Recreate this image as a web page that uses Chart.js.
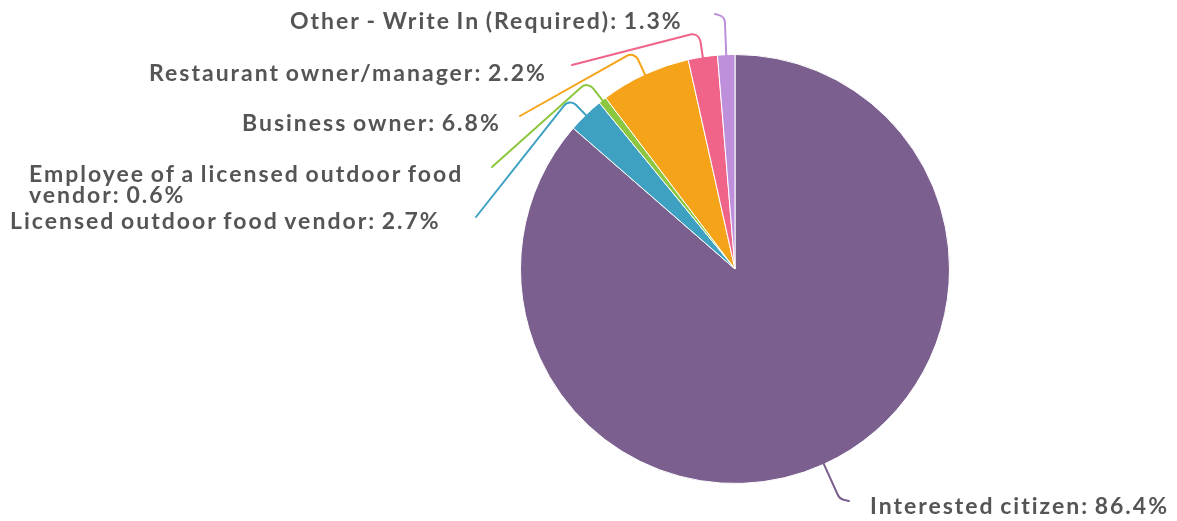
<!DOCTYPE html>
<html>
<head>
<meta charset="utf-8">
<script src="https://cdn.jsdelivr.net/npm/chart.js@4.4.0/dist/chart.umd.min.js"></script>
<style>
  html, body { margin: 0; padding: 0; background: #fff; }
  #wrap { width: 1177px; height: 521px; position: relative; }
</style>
</head>
<body>
<div id="wrap"><canvas id="roleChart"></canvas></div>
<script>
const categories = [
  "Interested citizen",
  "Licensed outdoor food vendor",
  "Employee of a licensed outdoor food vendor",
  "Business owner",
  "Restaurant owner/manager",
  "Other - Write In (Required)"
];
const shares = [86.4, 2.7, 0.6, 6.8, 2.2, 1.3];
const sliceColors = ["#7b5f8e", "#3fa1c2", "#8dc63f", "#f5a41a", "#ef6488", "#be90dc"];

// where each label sits and how far its leader line runs out of the pie
const labelSpots = [
  { x: 870, y: 514, ext: 38, end: [849, 501] },
  { x: 10, y: 229, ext: 23, end: [476, 217] },
  { x: 29, y: 182, ext: 24, end: [492, 167], wrap: 450, lineGap: 21 },
  { x: 242, y: 131, ext: 25, end: [520, 116] },
  { x: 149, y: 81, ext: 25, end: [572, 65] },
  { x: 290, y: 29, ext: 38, end: [715, 14] }
];

const leaderLabels = {
  id: "leaderLabels",
  afterDraw(chart) {
    const ctx = chart.ctx;
    const meta = chart.getDatasetMeta(0);
    ctx.save();
    meta.data.forEach(function (arc, i) {
      const spot = labelSpots[i];
      const mid = (arc.startAngle + arc.endAngle) / 2;
      const r = arc.outerRadius;
      const x0 = arc.x + Math.cos(mid) * (r - 2);
      const y0 = arc.y + Math.sin(mid) * (r - 2);
      const px = arc.x + Math.cos(mid) * (r + spot.ext);
      const py = arc.y + Math.sin(mid) * (r + spot.ext);
      ctx.beginPath();
      ctx.strokeStyle = sliceColors[i];
      ctx.lineWidth = 2;
      ctx.lineCap = "round";
      ctx.moveTo(x0, y0);
      ctx.arcTo(px, py, spot.end[0], spot.end[1], 8);
      ctx.lineTo(spot.end[0], spot.end[1]);
      ctx.stroke();

      ctx.font = "bold 23px Lato";
      ctx.letterSpacing = "2px";
      ctx.wordSpacing = "-2px";
      ctx.fillStyle = "#555555";
      ctx.textAlign = "left";
      ctx.textBaseline = "alphabetic";
      const text = categories[i] + ": " + shares[i].toFixed(1) + "%";
      let lines = [text];
      if (spot.wrap) {
        lines = [];
        let cur = "";
        text.split(" ").forEach(function (w) {
          const test = cur ? cur + " " + w : w;
          if (ctx.measureText(test).width > spot.wrap && cur) {
            lines.push(cur);
            cur = w;
          } else {
            cur = test;
          }
        });
        lines.push(cur);
      }
      lines.forEach(function (ln, k) {
        ctx.fillText(ln, spot.x, spot.y + k * (spot.lineGap || 22));
      });
    });
    ctx.restore();
  }
};

new Chart(document.getElementById("roleChart"), {
  type: "pie",
  data: {
    labels: categories,
    datasets: [{
      data: shares,
      backgroundColor: sliceColors,
      borderColor: "#ffffff",
      borderWidth: 1
    }]
  },
  options: {
    responsive: true,
    maintainAspectRatio: false,
    animation: false,
    layout: { padding: { left: 520, right: 227, top: 54, bottom: 37 } },
    plugins: {
      legend: { display: false },
      tooltip: { enabled: false }
    }
  },
  plugins: [leaderLabels]
});
</script>
</body>
</html>
